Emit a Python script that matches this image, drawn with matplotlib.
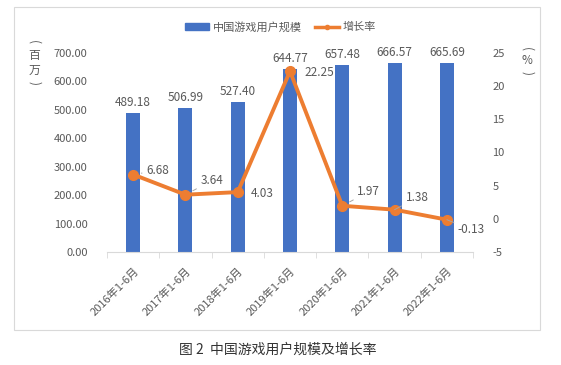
import matplotlib
matplotlib.use("Agg")
import matplotlib.pyplot as plt
from matplotlib.patches import Rectangle
from matplotlib.lines import Line2D

plt.rcParams['font.family'] = ['Noto Sans CJK SC', 'DejaVu Sans']

periods = ['2016年1-6月', '2017年1-6月', '2018年1-6月', '2019年1-6月',
           '2020年1-6月', '2021年1-6月', '2022年1-6月']
users = [489.18, 506.99, 527.40, 644.77, 657.48, 666.57, 665.69]
growth = [6.68, 3.64, 4.03, 22.25, 1.97, 1.38, -0.13]
# label offsets in pixels for the growth labels, and whether they have a leader line
label_offsets = [(13, 4), (15, 14), (13, -1), (14, -1), (15, 14), (11, 12), (11, -10)]
leaders = [True, True, False, False, True, True, True]

blue = '#4472C4'
orange = '#ED7D31'
txt = '#595959'

fig = plt.figure(figsize=(5.61, 3.65), dpi=100)
fig.patch.set_facecolor('white')

# chart frame
fig.patches.append(Rectangle((14 / 561, 35 / 365), 526 / 561, 323 / 365,
                             transform=fig.transFigure, fill=False,
                             edgecolor='#d9d9d9', lw=0.8))

ax = fig.add_axes([107 / 561, 113 / 365, 366 / 561, 199 / 365])
x = list(range(len(periods)))
bars = ax.bar(x, users, width=0.27, color=blue, zorder=2)
ax.set_xlim(-0.5, len(periods) - 0.5)
ax.set_ylim(0, 700)
ax.set_yticks([0, 100, 200, 300, 400, 500, 600, 700])
ax.set_yticklabels(['%.2f' % v for v in ax.get_yticks()], color=txt, fontsize=8)
ax.set_xticks(x)
ax.set_xticklabels(periods, rotation=45, ha='right', va='top',
                   rotation_mode='anchor', color=txt, fontsize=8)
ax.tick_params(axis='x', length=0, pad=10)
ax.set_xticks([i - 0.5 for i in range(len(periods) + 1)], minor=True)
ax.tick_params(axis='x', which='minor', length=4, color='#d9d9d9')
ax.tick_params(axis='y', length=0, pad=14)
for s in ['top', 'right', 'left']:
    ax.spines[s].set_visible(False)
ax.spines['bottom'].set_color('#d9d9d9')

for b, v in zip(bars, users):
    ax.annotate('%.2f' % v, (b.get_x() + b.get_width() / 2, v),
                xytext=(0, 4), textcoords='offset pixels',
                ha='center', va='bottom', fontsize=8.5, color=txt)

ax2 = ax.twinx()
ax2.plot(x, growth, color=orange, lw=2.8, marker='o', markersize=7, zorder=3)
ax2.set_ylim(-5, 25)
ax2.set_yticks([-5, 0, 5, 10, 15, 20, 25])
ax2.set_yticklabels([str(v) for v in ax2.get_yticks()], color=txt, fontsize=8)
ax2.tick_params(axis='y', length=0, pad=14)
for s in ['top', 'right', 'left', 'bottom']:
    ax2.spines[s].set_visible(False)

for xi, g, off, ld in zip(x, growth, label_offsets, leaders):
    props = None
    if ld:
        props = dict(arrowstyle='-', color='#a6a6a6', lw=0.7,
                     shrinkA=1, shrinkB=6)
    ax2.annotate('%.2f' % g, (xi, g), xytext=off, textcoords='offset pixels',
                 ha='left', va='center', fontsize=8.5, color=txt,
                 arrowprops=props)

# axis unit labels, stacked vertically; brackets are rotated
def unit_label(px, chars, ys):
    for ch, py in zip(chars, ys):
        rot = -90 if ch in '()' else 0
        fig.text(px / 561, 1 - py / 365, ch, ha='center', va='center',
                 fontsize=8.5, color=txt, rotation=rot)

unit_label(34, ['(', '百', '万', ')'], [42, 55, 70, 83])
unit_label(527, ['(', '%', ')'], [49, 61, 73])

# legend
handles = [Rectangle((0, 0), 1, 1, color=blue),
           Line2D([0], [0], color=orange, lw=2.5, marker='o', markersize=3)]
fig.legend(handles, ['中国游戏用户规模', '增长率'], loc='center',
           bbox_to_anchor=(0.5, 1 - 27 / 365), ncol=2, frameon=False,
           fontsize=8, labelcolor=txt, handlelength=2.2, columnspacing=1.2,
           handletextpad=0.3)

fig.text(0.495, 1 - 350 / 365, '图 2  中国游戏用户规模及增长率', ha='center',
         va='center', fontsize=10, color='#333333')

fig.savefig('out.png', dpi=100)
